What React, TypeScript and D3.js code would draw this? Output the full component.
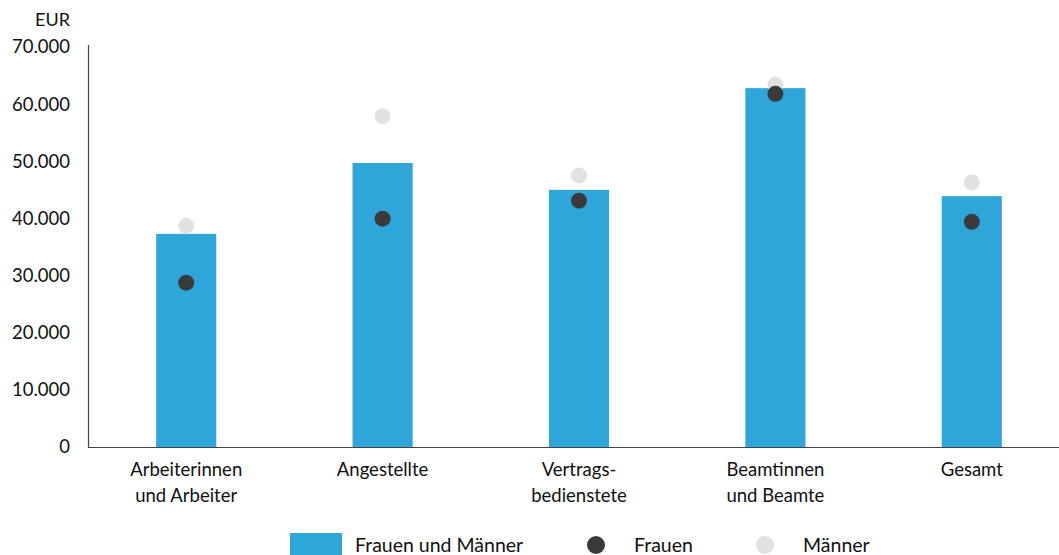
import React from "react";
import * as d3 from "d3";

const categories = [
  ["Arbeiterinnen", "und Arbeiter"],
  ["Angestellte"],
  ["Vertrags-", "bedienstete"],
  ["Beamtinnen", "und Beamte"],
  ["Gesamt"],
];
const totalValues = [37300, 49700, 45000, 62800, 43900];
const womenValues = [28750, 39950, 43100, 61800, 39400];
const menValues = [38700, 57900, 47500, 63400, 46300];
const yTicks = [0, 10000, 20000, 30000, 40000, 50000, 60000, 70000];

const W = 1059;
const H = 555;
const FONT = "Lato, 'Open Sans', sans-serif";
const BAR = "#2fa6da";
const DARK = "#3a3a3a";
const LIGHT = "#e1e1e1";
const INK = "#111";

const fmt = (v: number) => d3.format(",")(v).replace(/,/g, ".");

export default function App() {
  const x = d3
    .scaleBand<number>()
    .domain(d3.range(categories.length))
    .range([88, 1070])
    .paddingInner(0.694)
    .paddingOuter(0.347);
  const y = d3.scaleLinear().domain([0, 70000]).range([447, 47]);
  const cx = (i: number) => (x(i) as number) + x.bandwidth() / 2;

  return (
    <svg
      width={W}
      height={H}
      style={{ position: "absolute", left: 0, top: 0, background: "#fff" }}
      fontFamily={FONT}
    >
      <text x={70} y={26} textAnchor="end" fontSize={18} fill={INK}>
        EUR
      </text>
      {yTicks.map((t) => (
        <text
          key={t}
          x={70}
          y={y(t)}
          dy="0.35em"
          textAnchor="end"
          fontSize={18.5}
          fill={INK}
        >
          {fmt(t)}
        </text>
      ))}
      {totalValues.map((v, i) => (
        <rect
          key={i}
          x={x(i)}
          y={y(v)}
          width={x.bandwidth()}
          height={y(0) - y(v)}
          fill={BAR}
        />
      ))}
      <line x1={88.5} x2={88.5} y1={45} y2={447} stroke="#444" strokeWidth={1.2} />
      <line x1={88} x2={W} y1={447.5} y2={447.5} stroke="#444" strokeWidth={1.2} />
      {menValues.map((v, i) => (
        <circle key={"m" + i} cx={cx(i)} cy={y(v)} r={8} fill={LIGHT} />
      ))}
      {womenValues.map((v, i) => (
        <circle key={"w" + i} cx={cx(i)} cy={y(v)} r={8} fill={DARK} />
      ))}
      {categories.map((lines, i) => (
        <text
          key={"c" + i}
          x={cx(i)}
          textAnchor="middle"
          fontSize={18.5}
          fill={INK}
        >
          {lines.map((l, j) => (
            <tspan key={j} x={cx(i)} y={476 + j * 26}>
              {l}
            </tspan>
          ))}
        </text>
      ))}
      <g fontSize={19.5} fill={INK}>
        <rect x={290} y={533} width={52} height={24} fill={BAR} />
        <text x={355} y={552}>Frauen und Männer</text>
        <circle cx={596} cy={545} r={9} fill={DARK} />
        <text x={634} y={552}>Frauen</text>
        <circle cx={765} cy={545} r={9} fill={LIGHT} />
        <text x={803} y={552}>Männer</text>
      </g>
    </svg>
  );
}
